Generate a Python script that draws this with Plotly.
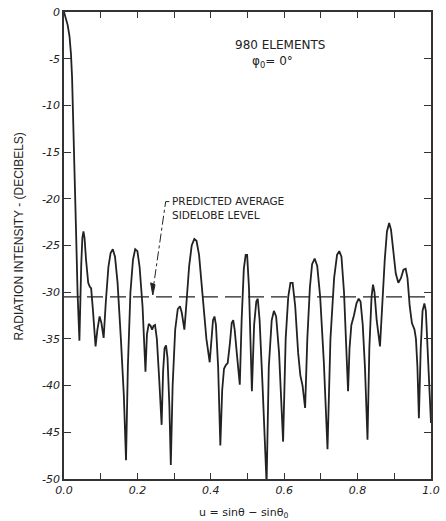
import plotly.graph_objects as go

# Pattern (u = sin(theta) - sin(theta0), radiation intensity in dB)
u_vals = [
    0.000, 0.005, 0.010, 0.015, 0.019, 0.022, 0.025, 0.028, 0.033, 0.037, 0.042,
    0.047, 0.050, 0.053, 0.056, 0.060, 0.066, 0.070, 0.074, 0.079, 0.086,
    0.091, 0.097, 0.102, 0.108,
    0.114, 0.121, 0.127, 0.133, 0.139, 0.146, 0.155, 0.163, 0.169,
    0.174, 0.181, 0.188, 0.194, 0.200, 0.206, 0.214, 0.222,
    0.226, 0.231, 0.236, 0.240, 0.244, 0.248, 0.253, 0.259, 0.266,
    0.270, 0.274, 0.278, 0.282, 0.287, 0.291,
    0.296, 0.303, 0.310, 0.316, 0.321, 0.328,
    0.333, 0.341, 0.348, 0.355, 0.361, 0.368, 0.378, 0.388, 0.397,
    0.401, 0.406, 0.410, 0.414, 0.420, 0.426,
    0.431, 0.436, 0.441, 0.446, 0.452, 0.457, 0.461, 0.465, 0.472, 0.479,
    0.484, 0.490, 0.495, 0.499, 0.504, 0.512,
    0.518, 0.524, 0.528, 0.533, 0.541, 0.552,
    0.558, 0.566, 0.572, 0.578, 0.586, 0.597,
    0.604, 0.611, 0.617, 0.623, 0.630, 0.638, 0.644, 0.650, 0.657,
    0.663, 0.670, 0.676, 0.683, 0.690, 0.698, 0.708, 0.718,
    0.726, 0.736, 0.744, 0.750, 0.756, 0.763, 0.774,
    0.778, 0.783, 0.790, 0.797, 0.803, 0.808, 0.814, 0.820, 0.827,
    0.832, 0.838, 0.842, 0.846, 0.852, 0.861,
    0.867, 0.874, 0.880, 0.886, 0.891, 0.897, 0.904, 0.911,
    0.918, 0.925, 0.931, 0.936, 0.942, 0.948, 0.955, 0.959, 0.963, 0.967,
    0.972, 0.977, 0.982, 0.986, 0.991, 0.996, 1.000,
]
db_vals = [
    0.0, -0.6, -1.4, -2.6, -4.5, -7.0, -11.0, -16.0, -23.7, -30.1, -35.2,
    -27.0, -24.2, -23.5, -24.2, -26.5, -29.0, -29.4, -29.6, -32.0, -35.8,
    -34.0, -32.6, -33.3, -34.9,
    -31.0, -27.3, -25.8, -25.4, -26.2, -29.0, -35.0, -41.0, -48.0,
    -38.0, -30.0, -26.5, -25.4, -25.6, -27.3, -31.5, -38.5,
    -34.5, -33.4, -33.6, -34.0, -33.6, -33.5, -35.0, -39.0, -44.2,
    -38.5, -36.0, -35.7, -37.0, -42.0, -48.5,
    -40.0, -34.0, -31.8, -31.5, -32.2, -34.0,
    -31.5, -27.2, -25.0, -24.3, -24.5, -26.0, -30.5, -35.0, -37.5,
    -35.5, -33.0, -32.6, -33.5, -38.0, -46.4,
    -40.5, -38.2, -37.8, -37.6, -35.5, -33.3, -33.0, -34.0, -37.0, -39.9,
    -33.0, -27.5, -26.0, -26.0, -29.5, -40.6,
    -33.5, -31.0, -30.7, -33.0, -40.0, -50.5,
    -38.0, -33.0, -32.0, -32.6, -36.5, -46.0,
    -35.0, -30.5, -29.0, -29.0, -31.5, -36.5, -38.9, -40.0, -42.4,
    -35.0, -29.5, -27.0, -26.4, -27.2, -30.5, -37.5, -46.8,
    -35.0, -28.5, -26.0, -25.6, -26.2, -30.0, -40.6,
    -36.0, -33.5, -32.5, -31.2, -30.7, -31.0, -33.5, -38.0, -45.8,
    -36.0, -30.5, -29.2, -30.0, -33.0, -35.8,
    -31.0, -26.5, -23.5, -22.6, -23.3, -25.5, -28.0, -29.0,
    -28.5, -27.6, -27.5, -28.5, -31.5, -33.3, -34.0, -35.0, -38.0, -43.5,
    -36.0, -32.0, -31.2, -32.0, -36.0, -41.5, -44.0,
]

avg_level = -30.5
x_major = [0.0, 0.2, 0.4, 0.6, 0.8, 1.0]
x_ticktext = ["0.0", "0.2", "0.4", "0.6", "0.8", "1.0"]
y_ticks = [0, -5, -10, -15, -20, -25, -30, -35, -40, -45, -50]
y_ticktext = ["0", "-5", "-10", "-15", "-20", "-25", "-30", "-35", "-40", "-45", "-50"]

ink = "#222222"
font_main = "DejaVu Sans"

fig = go.Figure()
fig.add_trace(go.Scatter(
    x=u_vals, y=db_vals, mode="lines",
    line=dict(color=ink, width=1.8),
    showlegend=False, hoverinfo="skip"))

fig.add_trace(go.Scatter(
    x=[0.0, 1.0], y=[avg_level, avg_level], mode="lines",
    line=dict(color=ink, width=1.4, dash="16px,7px"),
    showlegend=False, hoverinfo="skip"))

axis_common = dict(
    showline=True, linecolor="#333333", linewidth=1.5, mirror="ticks",
    ticks="inside", tickcolor="#333333", showgrid=False, zeroline=False,
    ticklabeloverflow="allow",
    tickfont=dict(family=font_main, size=11, color=ink),
)

fig.update_layout(
    width=446, height=521,
    margin=dict(l=64, r=6, t=12, b=42),
    paper_bgcolor="white", plot_bgcolor="white",
    xaxis=dict(range=[0, 1.0], tickvals=x_major,
               ticktext=["<i>" + t + "</i>" for t in x_ticktext],
               ticklen=6, tickwidth=1.3,
               minor=dict(dtick=0.1, tick0=0, ticks="inside", ticklen=6,
                          tickwidth=1.3, tickcolor="#333333"),
               **axis_common),
    yaxis=dict(range=[-50, 0], tickvals=y_ticks,
               ticktext=["<i>" + t + "</i>" for t in y_ticktext],
               ticklen=7, tickwidth=1.3, **axis_common),
    font=dict(family=font_main, color=ink),
)

# x-axis title
fig.add_annotation(xref="paper", yref="paper", x=0.49, y=-0.072, yanchor="middle",
                   text="u = sin\u03b8 \u2212 sin\u03b8<sub>0</sub>", showarrow=False,
                   font=dict(family=font_main, size=11, color=ink))
# y-axis title
fig.add_annotation(xref="paper", yref="paper", x=-0.122, y=0.52, xanchor="center",
                   yanchor="middle", textangle=-90,
                   text="RADIATION INTENSITY - (DECIBELS)", showarrow=False,
                   font=dict(family="Liberation Sans", size=12, color=ink))

# upper-right labels
fig.add_annotation(x=0.588, y=-3.5, text="980 ELEMENTS", showarrow=False,
                   xanchor="center", font=dict(family=font_main, size=12, color=ink))
fig.add_annotation(x=0.567, y=-5.4, text="\u03c6<sub>0</sub>= 0\u00b0", showarrow=False,
                   xanchor="center", font=dict(family=font_main, size=12, color=ink))

# predicted average sidelobe label
fig.add_annotation(x=0.29, y=-21.0, xanchor="left", align="left",
                   text="PREDICTED AVERAGE<br>SIDELOBE LEVEL", showarrow=False,
                   font=dict(family=font_main, size=10.5, color=ink))
fig.add_shape(type="path", path="M 0.287,-20.3 L 0.277,-20.3 L 0.243,-29.6",
              line=dict(color=ink, width=1, dash="dashdot"))
fig.add_shape(type="path", path="M 0.236,-29.0 L 0.242,-30.3 L 0.248,-29.2 Z",
              line=dict(color=ink, width=1), fillcolor=ink)

fig.write_html("out.html")
